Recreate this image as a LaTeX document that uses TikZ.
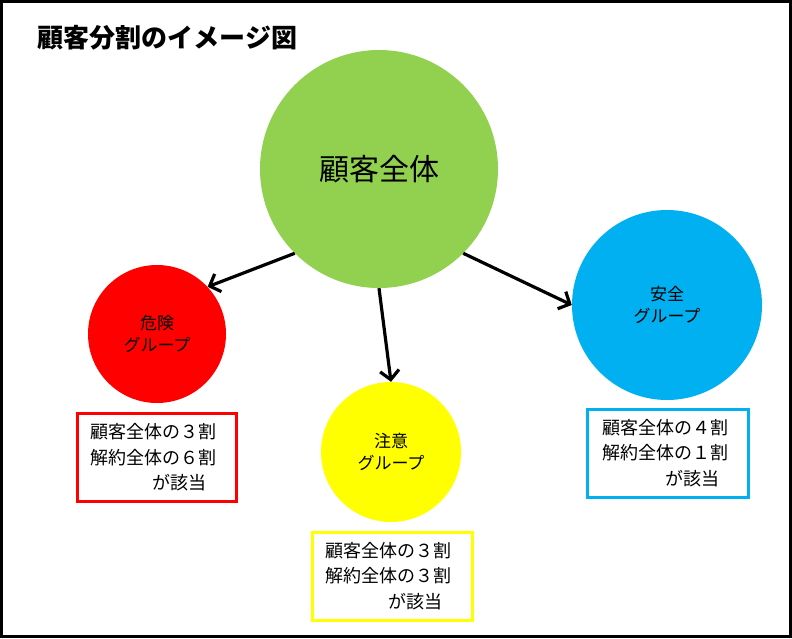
\documentclass[tikz,border=0pt]{standalone}
\usepackage{fontspec}
\setmainfont{Noto Sans CJK JP}
\usetikzlibrary{arrows.meta}
\definecolor{cgreen}{HTML}{92D050}
\definecolor{cred}{HTML}{FF0000}
\definecolor{cyellow}{HTML}{FFFF00}
\definecolor{cblue}{HTML}{00B0F0}
\tikzset{
  ball/.style={circle, inner sep=0pt, text=black, align=center},
  small/.style={font=\fontsize{17pt}{22pt}\selectfont},
  infobox/.style={rectangle, line width=3pt, fill=white, inner xsep=13pt, inner ysep=0pt,
    minimum height=88pt, align=left, font=\fontsize{18pt}{25.5pt}\selectfont},
  conn/.style={-{Straight Barb[length=9pt,width=19pt,line width=3.2pt]}, line width=3.2pt, black},
}
\begin{document}
\begin{tikzpicture}[x=1pt,y=-1pt]
\useasboundingbox (0,0) rectangle (792,638);
\fill[white] (0,0) rectangle (792,638);
\draw[line width=2.5pt] (1.25,1.25) rectangle (790.5,636.5);

\node[anchor=west, font=\fontsize{26pt}{30pt}\selectfont\bfseries] (title) at (34,38) {顧客分割のイメージ図};

\node[ball, fill=cgreen, minimum size=238pt, font=\fontsize{30pt}{36pt}\selectfont] (all) at (379,169) {\raisebox{-3pt}{顧客全体}};
\node[ball, small, fill=cred, minimum size=138pt] (danger) at (157,334) {危険\\グループ};
\node[ball, small, fill=cyellow, minimum size=140pt] (caution) at (391,452) {注意\\グループ};
\node[ball, small, fill=cblue, minimum size=190pt] (safe) at (667,305) {安全\\グループ};

\draw[conn] (all.225) -- (danger.43);
\draw[conn] (all.270) -- (caution.90);
\draw[conn] (all.-45) -- (safe.180);

\node[infobox, draw=cred, text width=133pt] (boxd) at (156.5,457.5) {顧客全体の３割\\解約全体の６割\\\hspace*{62pt}が該当};
\node[infobox, draw=cyellow, text width=134pt] (boxc) at (392,576) {顧客全体の３割\\解約全体の３割\\\hspace*{63pt}が該当};
\node[infobox, draw=cblue, text width=131pt, inner xsep=15pt] (boxs) at (667.5,453) {顧客全体の４割\\解約全体の１割\\\hspace*{63pt}が該当};
\end{tikzpicture}
\end{document}
